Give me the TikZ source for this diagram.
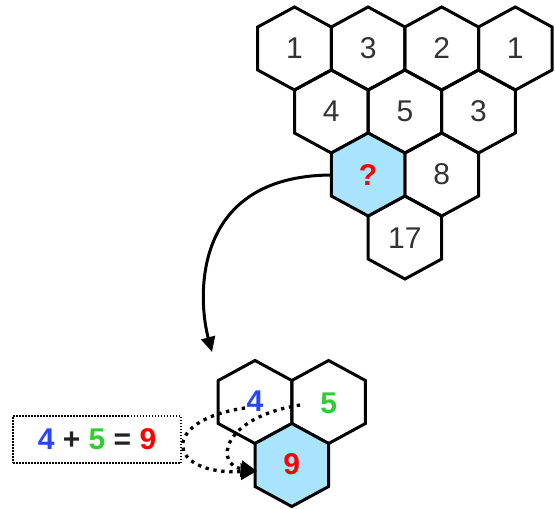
\documentclass[tikz,border=0pt]{standalone}
\usepackage{fontspec}
\setmainfont{Liberation Sans}
\usetikzlibrary{arrows.meta,calc}
\definecolor{hexfill}{RGB}{170,228,252}
\definecolor{numgray}{RGB}{51,51,51}
\definecolor{numdark}{RGB}{34,34,34}
\definecolor{eqblue}{RGB}{40,70,255}
\definecolor{eqgreen}{RGB}{50,205,50}
\definecolor{eqred}{RGB}{255,0,0}
\begin{document}
\begin{tikzpicture}[x=1pt,y=-1pt,
  hexline/.style={line width=3pt,draw=black},
  hexcell/.pic={\path[pic actions] (0,-41.5) -- (36.8,-21.5) -- (36.8,21.5) -- (0,41.5) -- (-36.8,21.5) -- (-36.8,-21.5) -- cycle;},
  hexnum/.style={font=\fontsize{30}{36}\selectfont, text=numgray, minimum width=73.6pt, minimum height=43pt, inner sep=0pt},
  hexbold/.style={hexnum, font=\fontsize{30}{36}\selectfont\bfseries},
  eqbox/.style={draw=black, line width=1.2pt, dash pattern=on 1.5pt off 1.5pt, minimum width=168pt, minimum height=47pt, inner sep=0pt, font=\fontsize{30}{36}\selectfont\bfseries, text=numdark},
  mainarrow/.style={line width=3pt, -{Triangle[length=15pt,width=14pt]}},
  dotarrow/.style={line width=3.3pt, dash pattern=on 3.3pt off 4.7pt, -{Triangle[length=16pt,width=16pt]}}
]
\useasboundingbox (0,0) rectangle (555,509);
% top pyramid
\foreach \cx in {294.5,368.1,441.7,515.3} {\pic[hexline] at (\cx,48.5) {hexcell};}
\foreach \cx in {331.3,404.9,478.5} {\pic[hexline] at (\cx,111.5) {hexcell};}
\pic[hexline] at (441.7,174.5) {hexcell};
\pic[hexline] at (404.9,237.5) {hexcell};
\pic[hexline,fill=hexfill] at (368.1,174.5) {hexcell};
\node[hexnum] (t11) at (294.5,48.5) {1};
\node[hexnum] (t12) at (368.1,48.5) {3};
\node[hexnum] (t13) at (441.7,48.5) {2};
\node[hexnum] (t14) at (515.3,48.5) {1};
\node[hexnum] (t21) at (331.3,111.5) {4};
\node[hexnum] (t22) at (404.9,111.5) {5};
\node[hexnum] (t23) at (478.5,111.5) {3};
\node[hexbold,text=eqred] (t31) at (368.1,175) {?};
\node[hexnum] (t32) at (441.7,174.5) {8};
\node[hexnum] (t41) at (404.9,238) {17};
% bottom cluster
\pic[hexline] at (255,402) {hexcell};
\pic[hexline] at (328.6,402) {hexcell};
\pic[hexline,fill=hexfill] at (291.8,465) {hexcell};
\node[hexbold,text=eqblue] (b4) at (255,401) {4};
\node[hexbold,text=eqgreen] (b5) at (328.6,403) {5};
\node[hexbold,text=eqred] (b9) at (291.8,464) {9};
% equation
\node[eqbox] (eq) at (97,439.5) {{\color{eqblue}4} + {\color{eqgreen}5} = {\color{eqred}9}};
% connectors
\coordinate (arrowend) at (212,352);
\coordinate (s4) at (245,408);
\coordinate (s5) at (300,405);
\coordinate (e9) at ($(b9.west)+(2,7)$);
\draw[mainarrow] (t31.west) .. controls (190,176) and (198,300) .. (arrowend);
\draw[dotarrow] (s4) .. controls (160,420) and (165,475) .. (e9);
\draw[dotarrow] (s5) .. controls (220,418) and (215,465) .. (e9);
\end{tikzpicture}
\end{document}
